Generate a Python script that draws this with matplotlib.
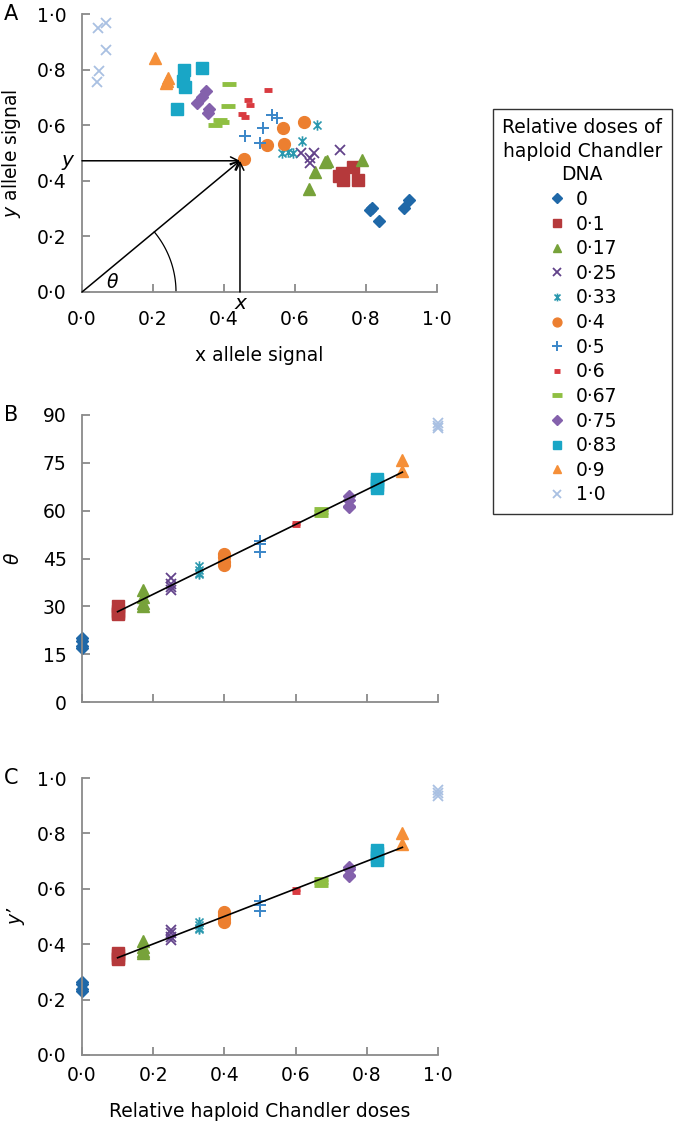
import numpy as np
import matplotlib
matplotlib.use("Agg")
import matplotlib.pyplot as plt
from matplotlib.path import Path

plt.rcParams['font.family'] = ['DejaVu Sans']
plt.rcParams['mathtext.fontset'] = 'dejavusans'

# dose groups and their styling
doses = [0, 0.1, 0.17, 0.25, 0.33, 0.4, 0.5, 0.6, 0.67, 0.75, 0.83, 0.9, 1.0]
dose_labels = ["0", "0·1", "0·17", "0·25", "0·33", "0·4", "0·5", "0·6", "0·67", "0·75", "0·83", "0·9", "1·0"]
colors = ["#1f68a8", "#b5393b", "#77a23a", "#62428a", "#2a98ae", "#ec7f30", "#3a86c8",
          "#d93a40", "#8fbf42", "#8461ac", "#19a6c6", "#f58f38", "#a9c0e2"]

# panel A: x / y allele signal per group
ax_x = [[0.817, 0.837, 0.907, 0.921, 0.812],
        [0.732, 0.763, 0.735, 0.777, 0.725],
        [0.684, 0.690, 0.789, 0.656, 0.639],
        [0.617, 0.642, 0.654, 0.642, 0.727],
        [0.662, 0.620, 0.563, 0.594, 0.580],
        [0.457, 0.521, 0.566, 0.569, 0.625],
        [0.459, 0.501, 0.510, 0.535, 0.549],
        [0.524, 0.467, 0.473, 0.450, 0.459],
        [0.414, 0.412, 0.390, 0.374, 0.395],
        [0.349, 0.337, 0.323, 0.359, 0.356],
        [0.287, 0.337, 0.284, 0.290, 0.267],
        [0.206, 0.243, 0.236, 0.240],
        [0.045, 0.068, 0.068, 0.048, 0.042]]
ax_y = [[0.302, 0.255, 0.302, 0.331, 0.295],
        [0.428, 0.450, 0.403, 0.403, 0.418],
        [0.468, 0.471, 0.475, 0.432, 0.370],
        [0.500, 0.482, 0.500, 0.464, 0.511],
        [0.600, 0.543, 0.500, 0.500, 0.505],
        [0.478, 0.529, 0.590, 0.532, 0.611],
        [0.561, 0.536, 0.590, 0.637, 0.626],
        [0.727, 0.690, 0.673, 0.640, 0.630],
        [0.747, 0.668, 0.618, 0.600, 0.612],
        [0.724, 0.703, 0.679, 0.660, 0.643],
        [0.800, 0.806, 0.760, 0.738, 0.660],
        [0.842, 0.770, 0.752, 0.760],
        [0.951, 0.968, 0.871, 0.795, 0.755]]

# panel B: theta per group
theta = [[20.2, 19.0, 17.5, 16.8],
         [30.0, 28.5, 28.0, 27.5],
         [35.0, 33.0, 31.0, 30.0],
         [39.0, 37.0, 36.0, 35.0],
         [42.5, 41.5, 40.5, 40.0],
         [46.5, 45.5, 44.0, 43.0],
         [50.5, 49.5, 47.0],
         [56.0, 55.5],
         [60.5, 59.5, 58.5],
         [64.5, 63.5, 61.5, 61.0],
         [70.0, 69.0, 68.0, 67.0],
         [76.0, 72.5],
         [87.5, 86.5, 86.0]]

# panel C: y' per group
yprime = [[0.265, 0.255, 0.240, 0.230],
          [0.370, 0.360, 0.350, 0.345],
          [0.410, 0.390, 0.375, 0.370],
          [0.450, 0.440, 0.425, 0.415],
          [0.480, 0.470, 0.460, 0.455],
          [0.515, 0.505, 0.490, 0.480],
          [0.555, 0.540, 0.520],
          [0.600, 0.590],
          [0.635, 0.625, 0.615],
          [0.680, 0.670, 0.650, 0.645],
          [0.740, 0.730, 0.715, 0.705],
          [0.800, 0.760],
          [0.955, 0.945, 0.935]]

tick01 = ["0·0", "0·2", "0·4", "0·6", "0·8", "1·0"]
tick_theta = ["0", "15", "30", "45", "60", "75", "90"]

# excel style asterisk: x with a vertical bar
star = Path([(-1, -1), (1, 1), (-1, 1), (1, -1), (0, -1.3), (0, 1.3)],
            [Path.MOVETO, Path.LINETO, Path.MOVETO, Path.LINETO, Path.MOVETO, Path.LINETO])

styles = [dict(marker="D", ms=6.5),
          dict(marker="s", ms=8),
          dict(marker="^", ms=8.5),
          dict(marker="x", ms=7.5, mew=1.3),
          dict(marker=star, ms=7.5, mew=1.2),
          dict(marker="o", ms=8.5),
          dict(marker="+", ms=9, mew=1.4),
          dict(marker="_", ms=6, mew=3.5),
          dict(marker="_", ms=10, mew=3.5),
          dict(marker="D", ms=6.5),
          dict(marker="s", ms=8),
          dict(marker="^", ms=8.5),
          dict(marker="x", ms=7.5, mew=1.3)]

FS = 13.5
W, H = 674, 1124
fig = plt.figure(figsize=(W / 100, H / 100), dpi=100)
axA = fig.add_axes([82 / W, 1 - 292 / H, 355 / W, 278 / H])
axB = fig.add_axes([82 / W, 1 - 702 / H, 356 / W, 287 / H])
axC = fig.add_axes([82 / W, 1 - 1055 / H, 356 / W, 277 / H])

grey = "#8a8a8a"
for ax in (axA, axB, axC):
    for s in ("top", "right"):
        ax.spines[s].set_visible(False)
    for s in ("left", "bottom"):
        ax.spines[s].set_color(grey)
        ax.spines[s].set_linewidth(1.3)
    ax.tick_params(direction="in", length=6, width=1.3, color=grey, labelsize=FS, pad=11)
    ax.set_xlim(0, 1)
    ax.set_xticks(np.linspace(0, 1, 6))

handles = []
for i in range(len(doses)):
    st = dict(styles[i])
    h, = axA.plot(ax_x[i], ax_y[i], ls="none", color=colors[i], mec=colors[i],
                  label=dose_labels[i], clip_on=False, **st)
    handles.append(h)
    xs = [doses[i]] * len(theta[i])
    axB.plot(xs, theta[i], ls="none", color=colors[i], mec=colors[i], clip_on=False, **st)
    xs = [doses[i]] * len(yprime[i])
    axC.plot(xs, yprime[i], ls="none", color=colors[i], mec=colors[i], clip_on=False, **st)

# linear fits over 0.1 - 0.9
for ax, vals in ((axB, theta), (axC, yprime)):
    fx, fy = [], []
    for i in range(1, 12):
        fx += [doses[i]] * len(vals[i])
        fy += vals[i]
    k, b = np.polyfit(fx, fy, 1)
    lx = np.array([doses[1], doses[11]])
    ax.plot(lx, k * lx + b, color="black", lw=1.2, zorder=5)

# panel A
axA.set_ylim(0, 1)
axA.set_yticks(np.linspace(0, 1, 6))
axA.set_xticklabels(tick01)
axA.set_yticklabels(tick01)
axA.tick_params(axis="x", pad=13)
axA.set_xlabel("x allele signal", fontsize=FS, labelpad=12)
axA.set_ylabel("$y$ allele signal", fontsize=FS)
axA.yaxis.set_label_coords(-0.165, 0.5)

# geometry annotation for one sample
px, py = ax_x[5][0] - 0.012, ax_y[5][0] - 0.006
arr = dict(arrowstyle="->", lw=1.1, color="black", shrinkA=0, shrinkB=0, mutation_scale=14)
axA.annotate("", xy=(px, py), xytext=(0, 0), arrowprops=arr)
axA.annotate("", xy=(px, py), xytext=(0, py), arrowprops=arr)
axA.annotate("", xy=(px, py), xytext=(px, 0), arrowprops=arr)
# arc for theta, circular in pixel space
p0 = axA.transData.transform((0, 0))
p1 = axA.transData.transform((px, py))
ang = np.arctan2(p1[1] - p0[1], p1[0] - p0[0])
t = np.linspace(0, ang, 60)
r = 94
arc = axA.transData.inverted().transform(np.column_stack([p0[0] + r * np.cos(t), p0[1] + r * np.sin(t)]))
axA.plot(arc[:, 0], arc[:, 1], color="black", lw=0.9)
axA.text(0.085, 0.035, "θ", fontsize=FS, style="italic", ha="center", va="center")
axA.text(px, -0.04, "x", fontsize=FS + 1, style="italic", ha="center", va="center")
axA.text(-0.04, py, "y", fontsize=FS + 1, style="italic", ha="center", va="center")

# panel B
axB.set_ylim(0, 90)
axB.set_yticks(np.arange(0, 91, 15))
axB.set_yticklabels(tick_theta)
axB.set_xticklabels([])
axB.set_ylabel("θ", fontsize=FS, style="italic")
axB.yaxis.set_label_coords(-0.168, 0.5)

# panel C
axC.set_ylim(0, 1)
axC.set_yticks(np.linspace(0, 1, 6))
axC.set_yticklabels(tick01)
axC.set_xticklabels(tick01)
axC.tick_params(axis="x", pad=8)
axC.set_ylabel("y’", fontsize=FS, style="italic")
axC.yaxis.set_label_coords(-0.16, 0.5)
axC.set_xlabel("Relative haploid Chandler doses", fontsize=FS, labelpad=12)

for ax, lab in ((axA, "A"), (axB, "B"), (axC, "C")):
    ax.text(-0.2, 1.0, lab, transform=ax.transAxes, fontsize=15, ha="center", va="center")

leg = fig.legend(handles=handles, title="Relative doses of\nhaploid Chandler\nDNA",
                 loc="upper left", bbox_to_anchor=(493 / W, 1 - 109 / H),
                 fontsize=FS, title_fontsize=FS, frameon=True, fancybox=False,
                 edgecolor="black", markerscale=0.75, handlelength=1.0, handletextpad=0.5,
                 labelspacing=0.3, borderpad=0.5, borderaxespad=0)
leg.get_frame().set_linewidth(1.0)
leg.get_title().set_multialignment("center")
leg.get_title().set_linespacing(1.3)

fig.savefig("out.png", dpi=100)
